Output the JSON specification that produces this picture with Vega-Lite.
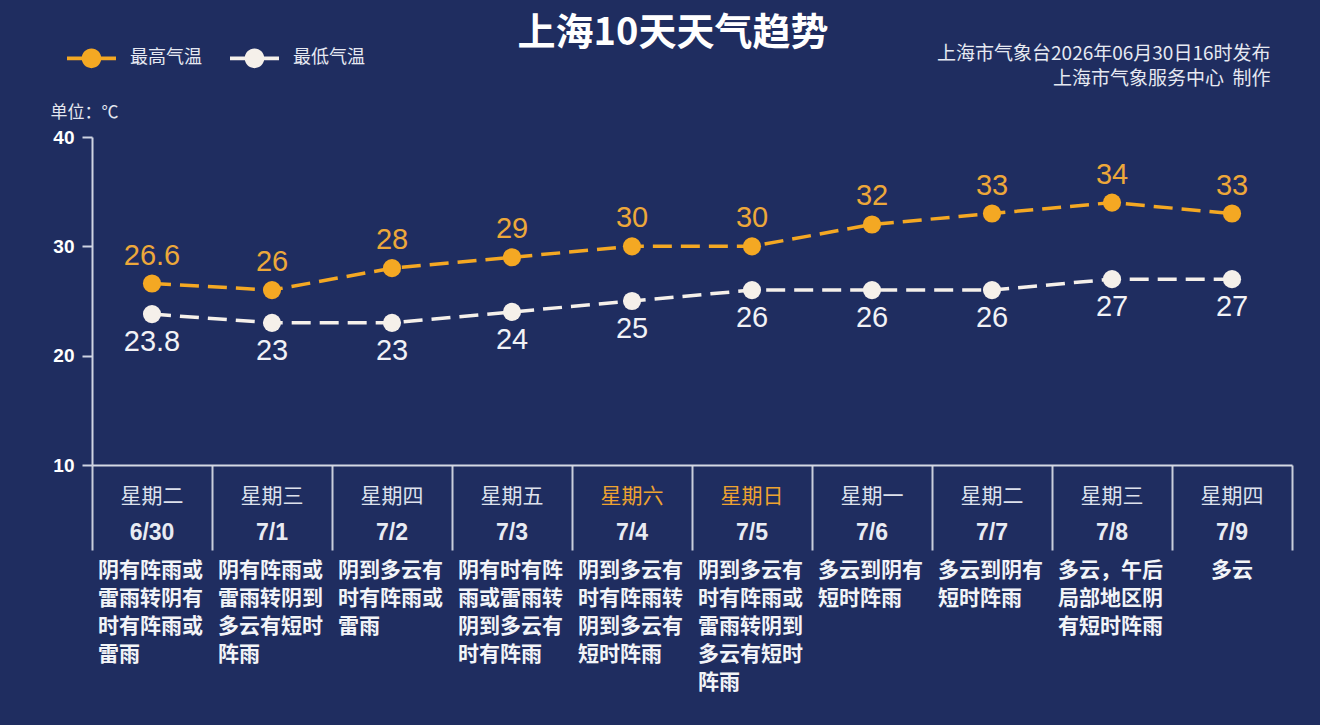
{
  "$schema": "https://vega.github.io/schema/vega-lite/v6.json",
  "width": 1200,
  "height": 328,
  "autosize": "none",
  "padding": {"left": 92, "top": 137, "right": 28, "bottom": 260},
  "background": "#1f2d60",
  "title": {
    "text": "上海10天天气趋势",
    "anchor": "middle",
    "frame": "group",
    "font": "Noto Sans CJK SC",
    "fontSize": 38,
    "fontWeight": "bold",
    "color": "#ffffff",
    "dx": -19,
    "offset": -1,
    "dy": 18
  },
  "data": {
    "values": [
      {"date": "6/30", "weekday": "星期二", "最高气温": 26.6, "最低气温": 23.8, "desc": "阴有阵雨或\n雷雨转阴有\n时有阵雨或\n雷雨"},
      {"date": "7/1", "weekday": "星期三", "最高气温": 26, "最低气温": 23, "desc": "阴有阵雨或\n雷雨转阴到\n多云有短时\n阵雨"},
      {"date": "7/2", "weekday": "星期四", "最高气温": 28, "最低气温": 23, "desc": "阴到多云有\n时有阵雨或\n雷雨"},
      {"date": "7/3", "weekday": "星期五", "最高气温": 29, "最低气温": 24, "desc": "阴有时有阵\n雨或雷雨转\n阴到多云有\n时有阵雨"},
      {"date": "7/4", "weekday": "星期六", "最高气温": 30, "最低气温": 25, "desc": "阴到多云有\n时有阵雨转\n阴到多云有\n短时阵雨"},
      {"date": "7/5", "weekday": "星期日", "最高气温": 30, "最低气温": 26, "desc": "阴到多云有\n时有阵雨或\n雷雨转阴到\n多云有短时\n阵雨"},
      {"date": "7/6", "weekday": "星期一", "最高气温": 32, "最低气温": 26, "desc": "多云到阴有\n短时阵雨"},
      {"date": "7/7", "weekday": "星期二", "最高气温": 33, "最低气温": 26, "desc": "多云到阴有\n短时阵雨"},
      {"date": "7/8", "weekday": "星期三", "最高气温": 34, "最低气温": 27, "desc": "多云，午后\n局部地区阴\n有短时阵雨"},
      {"date": "7/9", "weekday": "星期四", "最高气温": 33, "最低气温": 27, "desc": "多云"}
    ]
  },
  "layer": [
    {
      "transform": [{"fold": ["最高气温", "最低气温"], "as": ["series", "temp"]}],
      "encoding": {
        "x": {
          "field": "date", "type": "nominal", "sort": null,
          "scale": {"type": "band", "paddingInner": 0, "paddingOuter": 0},
          "axis": {
            "orient": "bottom", "labels": false, "title": null,
            "tickBand": "extent", "tickSize": 85, "tickColor": "#c9cedb", "tickWidth": 2,
            "domainColor": "#d5d9e4", "domainWidth": 2, "grid": false
          }
        },
        "y": {
          "field": "temp", "type": "quantitative",
          "scale": {"domain": [10, 40], "nice": false, "zero": false},
          "axis": {
            "values": [10, 20, 30, 40], "grid": false,
            "domainColor": "#cfd4e2", "domainWidth": 2,
            "tickColor": "#cfd4e2", "tickWidth": 2, "tickSize": 10,
            "labelColor": "#ffffff", "labelFontSize": 19, "labelFontWeight": "bold",
            "labelFont": "Liberation Sans", "labelPadding": 8,
            "title": "单位：℃", "titleAngle": 0, "titleX": -42, "titleY": -25,
            "titleAlign": "left", "titleBaseline": "middle", "titleFontSize": 17,
            "titleFontWeight": "normal", "titleColor": "#e3e6ef", "titleFont": "Noto Sans CJK SC"
          }
        },
        "color": {
          "field": "series", "type": "nominal",
          "scale": {"domain": ["最高气温", "最低气温"], "range": ["#f4a823", "#f5f0ea"]},
          "legend": {
            "orient": "none", "legendX": -25, "legendY": -103.5, "direction": "horizontal",
            "title": null,
            "symbolType": "M-1,-0.08H1V0.08H-1Z M-0.4,0A0.4,0.4 0 1,1 0.4,0A0.4,0.4 0 1,1 -0.4,0Z",
            "symbolSize": 2400, "symbolStrokeWidth": 0, "symbolOpacity": 1,
            "labelFontSize": 18, "labelColor": "#e6e9f2", "labelOffset": 14,
            "columnPadding": 28, "labelFont": "Noto Sans CJK SC"
          }
        }
      },
      "layer": [
        {
          "mark": {"type": "line", "strokeDash": [19, 9], "strokeWidth": 3.5}
        },
        {
          "mark": {"type": "point", "filled": true, "size": 330, "opacity": 1}
        },
        {
          "transform": [{"filter": "datum.series === '最高气温'"}],
          "mark": {"type": "text", "dy": -28, "fontSize": 29, "font": "Liberation Sans", "baseline": "middle"},
          "encoding": {"text": {"field": "temp", "type": "quantitative", "format": "~g"}, "color": {"value": "#eda83a"}}
        },
        {
          "transform": [{"filter": "datum.series === '最低气温'"}],
          "mark": {"type": "text", "dy": 28, "fontSize": 29, "font": "Liberation Sans", "baseline": "middle"},
          "encoding": {"text": {"field": "temp", "type": "quantitative", "format": "~g"}, "color": {"value": "#f2f2f6"}}
        }
      ]
    },
    {
      "encoding": {
        "x": {
          "field": "date", "type": "nominal", "sort": null,
          "scale": {"type": "band", "paddingInner": 0, "paddingOuter": 0},
          "axis": {
            "orient": "top", "domain": false, "ticks": false, "labels": false, "grid": false,
            "title": ["上海市气象台2026年06月30日16时发布", "上海市气象服务中心\u00a0\u00a0制作"],
            "titleX": 1178, "titleY": -93, "titleAlign": "right", "titleAnchor": null,
            "titleBaseline": "top", "titleFontSize": 19, "titleFontWeight": "normal",
            "titleColor": "#e6e9f2", "titleLineHeight": 25, "titleFont": "Noto Sans CJK SC"
          }
        }
      },
      "layer": [
        {
          "mark": {"type": "text", "fontSize": 21, "font": "Noto Sans CJK SC", "baseline": "middle"},
          "encoding": {
            "y": {"datum": "weekday", "type": "nominal", "scale": {"type": "point", "domain": ["weekday", "date", "desc"], "range": [360, 432], "padding": 0}, "axis": null},
            "text": {"field": "weekday"},
            "color": {"condition": {"test": "datum.weekday === '星期六' || datum.weekday === '星期日'", "value": "#eea330"}, "value": "#dde1ec"}
          }
        },
        {
          "mark": {"type": "text", "fontSize": 23, "fontWeight": "bold", "font": "Liberation Sans", "baseline": "middle", "color": "#e8ebf3"},
          "encoding": {
            "y": {"datum": "date", "type": "nominal", "axis": null},
            "text": {"field": "date"}
          }
        },
        {
          "transform": [{"filter": "length(datum.desc) > 5"}],
          "mark": {"type": "text", "fontSize": 21, "fontWeight": "bold", "font": "Noto Sans CJK SC", "align": "left", "baseline": "top", "dx": -54, "dy": -9, "lineBreak": "\n", "lineHeight": 28, "color": "#f2f4f8"},
          "encoding": {
            "y": {"datum": "desc", "type": "nominal", "axis": null},
            "text": {"field": "desc"}
          }
        },
        {
          "transform": [{"filter": "length(datum.desc) <= 5"}],
          "mark": {"type": "text", "fontSize": 21, "fontWeight": "bold", "font": "Noto Sans CJK SC", "align": "center", "baseline": "top", "dy": -9, "lineBreak": "\n", "lineHeight": 28, "color": "#f2f4f8"},
          "encoding": {
            "y": {"datum": "desc", "type": "nominal", "axis": null},
            "text": {"field": "desc"}
          }
        }
      ]
    }
  ],
  "resolve": {"scale": {"y": "independent"}, "axis": {"x": "independent", "y": "independent"}},
  "config": {
    "view": {"stroke": null},
    "font": "Noto Sans CJK SC"
  }
}
